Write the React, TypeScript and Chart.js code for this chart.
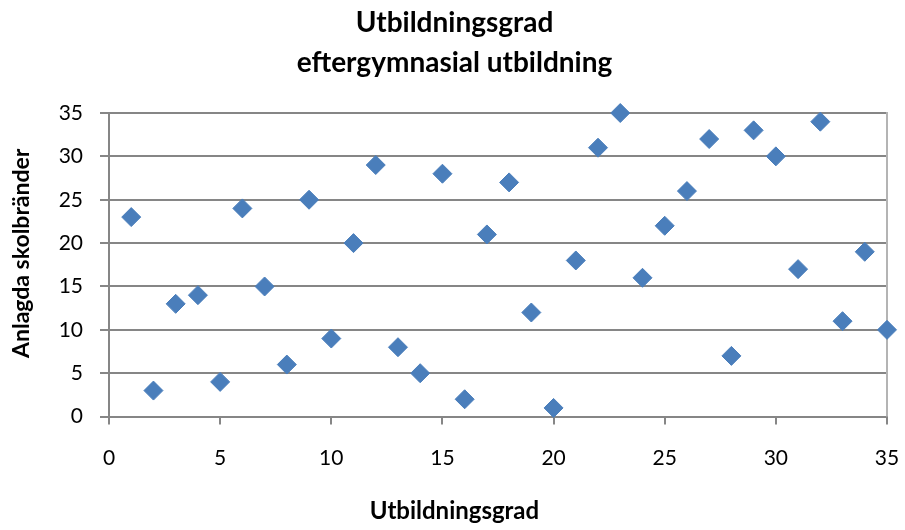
import React, { useEffect, useRef } from "react";
import { Chart, registerables } from "chart.js";

Chart.register(...registerables);

const titleLines = ["Utbildningsgrad", "eftergymnasial utbildning"];
const xAxisTitle = "Utbildningsgrad";
const yAxisTitle = "Anlagda skolbränder";
const xValues = [1, 2, 3, 4, 5, 6, 7, 8, 9, 10, 11, 12, 13, 14, 15, 16, 17, 18, 19, 20, 21, 22, 23, 24, 25, 26, 27, 28, 29, 30, 31, 32, 33, 34, 35];
const yValues = [23, 3, 13, 14, 4, 24, 15, 6, 25, 9, 20, 29, 8, 5, 28, 2, 21, 27, 12, 1, 18, 31, 35, 16, 22, 26, 32, 7, 33, 30, 17, 34, 11, 19, 10];

const FONT = "Lato, 'Open Sans', sans-serif";
const GRID = "#868686";

const rightBorder = {
  id: "rightBorder",
  beforeDatasetsDraw(chart: any) {
    const { ctx, chartArea } = chart;
    ctx.save();
    ctx.strokeStyle = "#b4b4b4";
    ctx.lineWidth = 2;
    ctx.beginPath();
    ctx.moveTo(chartArea.right, chartArea.top - 1);
    ctx.lineTo(chartArea.right, chartArea.bottom);
    ctx.stroke();
    ctx.restore();
  },
};

export default function App() {
  const ref = useRef<HTMLCanvasElement>(null);
  useEffect(() => {
    document.body.style.margin = "0";
    const chart = new Chart(ref.current as HTMLCanvasElement, {
      type: "scatter",
      data: {
        datasets: [
          {
            data: xValues.map((x, i) => ({ x, y: yValues[i] })),
            pointStyle: "rectRot",
            pointRadius: 9.5,
            pointHoverRadius: 9.5,
            backgroundColor: "#4A7EBB",
            borderColor: "#4A7EBB",
            borderWidth: 1,
            clip: false,
          },
        ],
      },
      options: {
        responsive: false,
        animation: false,
        layout: { padding: { left: 4, right: 0, top: 0, bottom: 0 } },
        plugins: {
          legend: { display: false },
          tooltip: { enabled: false },
          title: {
            display: true,
            text: titleLines,
            color: "#000",
            font: { family: FONT, size: 28, weight: "bold", lineHeight: 40 / 28 },
            padding: { top: 3, bottom: 30 },
          },
          subtitle: {
            display: true,
            position: "bottom",
            text: xAxisTitle,
            color: "#000",
            font: { family: FONT, size: 24, weight: "bold", lineHeight: 1.2 },
            padding: { top: 0, bottom: 4.6 },
          },
        },
        scales: {
          x: {
            type: "linear",
            min: 0,
            max: 35,
            afterFit: (s: any) => {
              s.height = 80;
              s.paddingRight = 18;
              s.paddingLeft = 0;
            },
            ticks: { stepSize: 5, color: "#000", font: { family: FONT, size: 21 }, padding: 21 },
            grid: { drawOnChartArea: false, drawTicks: true, tickLength: 8, color: GRID, lineWidth: 2 },
            border: { display: true, color: GRID, width: 2 },
          },
          y: {
            min: 0,
            max: 35,
            afterFit: (s: any) => {
              s.width = 105;
            },
            ticks: { stepSize: 5, color: "#000", font: { family: FONT, size: 21 }, padding: 17 },
            grid: { color: GRID, lineWidth: 2, tickLength: 9 },
            border: { display: true, color: GRID, width: 2 },
            title: {
              display: true,
              text: "\u2002\u2002" + yAxisTitle,
              color: "#000",
              font: { family: FONT, size: 23, weight: "bold", lineHeight: 1.2 },
              padding: { top: 4, bottom: 0 },
            },
          },
        },
      },
      plugins: [rightBorder],
    });
    return () => chart.destroy();
  }, []);
  return <canvas ref={ref} width={905} height={530} style={{ display: "block" }} />;
}
